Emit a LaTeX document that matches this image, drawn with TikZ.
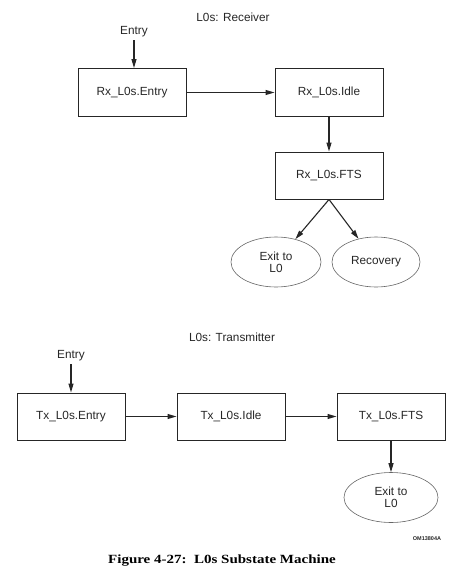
\documentclass[tikz,border=0pt]{standalone}
\usepackage{fontspec}
\setmainfont{Liberation Sans}
\newfontfamily\capfont{Liberation Serif}
\usetikzlibrary{arrows.meta,shapes.geometric}
\begin{document}
\begin{tikzpicture}[x=1pt,y=-1pt,
  every node/.style={font=\fontsize{11.8}{12}\selectfont, text=black!85},
  statebox/.style={draw=black!85, line width=1pt, minimum width=108pt, minimum height=48pt, inner sep=0pt},
  stateoval/.style={ellipse, draw=black!60, line width=0.6pt, inner sep=0pt, align=center},
  arr/.style={draw=black!85, line width=1.1pt, -{Triangle[length=9pt,width=5pt]}},
  lbl/.style={inner sep=3pt}]
\useasboundingbox (0,0) rectangle (475,576);
% Receiver
\node (rtitle) at (233,17) {L0s: Receiver};
\node[lbl] (rlbl) at (134,32) {Entry};
\node[statebox] (rentry) at (132,92.5) {Rx\_L0s.Entry};
\node[statebox] (ridle) at (329,92.5) {Rx\_L0s.Idle};
\node[statebox, minimum height=47pt] (rfts) at (329,175.5) {Rx\_L0s.FTS};
\node[stateoval, minimum width=90pt, minimum height=50pt] (rexit) at (276,262) {Exit to\\L0};
\node[stateoval, minimum width=88pt, minimum height=50pt] (rrec) at (376,262) {Recovery};
\draw[arr] (rlbl.south) -- (rlbl.south |- rentry.north);
\draw[arr] (rentry) -- (ridle);
\draw[arr] (ridle) -- (rfts);
\draw[arr] (rfts.south) -- (rexit);
\draw[arr] (rfts.south) -- (rrec);
% Transmitter
\node (ttitle) at (232,337) {L0s: Transmitter};
\node[lbl] (tlbl) at (71,356) {Entry};
\node[statebox, minimum height=47pt] (tentry) at (71,416.5) {Tx\_L0s.Entry};
\node[statebox, minimum height=47pt] (tidle) at (231,416.5) {Tx\_L0s.Idle};
\node[statebox, minimum height=47pt] (tfts) at (391,416.5) {Tx\_L0s.FTS};
\node[stateoval, minimum width=94pt, minimum height=50pt] (texit) at (391,497.5) {Exit to\\L0};
\draw[arr] (tlbl.south) -- (tlbl.south |- tentry.north);
\draw[arr] (tentry) -- (tidle);
\draw[arr] (tidle) -- (tfts);
\draw[arr] (tfts) -- (texit);
% labels
\node[font=\fontsize{5.5}{6}\selectfont\bfseries] (om) at (427,539) {OM13804A};
\node[font=\capfont\fontsize{12.5}{14}\selectfont\bfseries, text=black] (cap) at (222,561) {\scalebox{1.2}[1]{Figure 4-27:\ \ L0s Substate Machine}};
\end{tikzpicture}
\end{document}
